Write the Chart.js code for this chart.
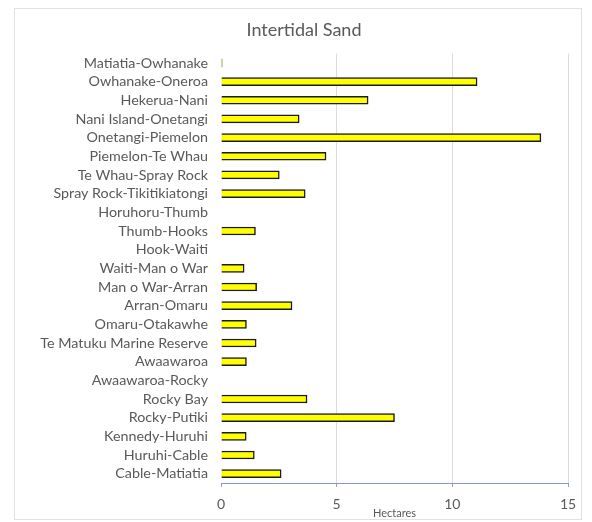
<!DOCTYPE html>
<html>
<head>
<meta charset="utf-8">
<script src="https://cdn.jsdelivr.net/npm/chart.js@4"></script>
<style>
  body { margin: 0; background: #fff; }
  #wrap { position: relative; width: 592px; height: 522px; }
  #frame { position: absolute; left: 14px; top: 8px; width: 566px; height: 510px; border: 1px solid #e2e2e2; pointer-events: none; }
</style>
</head>
<body>
<div id="wrap">
  <canvas id="sand" width="592" height="522"></canvas>
  <div id="frame"></div>
</div>
<script>

const sites = ['Matiatia-Owhanake', 'Owhanake-Oneroa', 'Hekerua-Nani', 'Nani Island-Onetangi',
  'Onetangi-Piemelon', 'Piemelon-Te Whau', 'Te Whau-Spray Rock', 'Spray Rock-Tikitikiatongi',
  'Horuhoru-Thumb', 'Thumb-Hooks', 'Hook-Waiti', 'Waiti-Man o War', 'Man o War-Arran',
  'Arran-Omaru', 'Omaru-Otakawhe', 'Te Matuku Marine Reserve', 'Awaawaroa', 'Awaawaroa-Rocky',
  'Rocky Bay', 'Rocky-Putiki', 'Kennedy-Huruhi', 'Huruhi-Cable', 'Cable-Matiatia'];

const hectares = [0.05, 11.07, 6.36, 3.38, 13.83, 4.54, 2.52, 3.64, 0, 1.49, 0, 1.0, 1.54,
  3.07, 1.1, 1.52, 1.1, 0, 3.72, 7.5, 1.09, 1.44, 2.6];

const xTicks = [0, 5, 10, 15];

const grey = '#595959';

new Chart(document.getElementById('sand'), {
  type: 'bar',
  data: {
    labels: sites,
    datasets: [{
      label: 'Intertidal Sand',
      data: hectares,
      backgroundColor: '#ffff00',
      borderColor: '#1a1a1a',
      borderWidth: 1.5,
      barThickness: 8
    }]
  },
  options: {
    indexAxis: 'y',
    responsive: false,
    animation: false,
    layout: { padding: { left: 40, right: 24, top: 0, bottom: 0 } },
    plugins: {
      legend: { display: false },
      tooltip: { enabled: false },
      title: {
        display: true,
        text: 'Intertidal Sand',
        color: grey,
        font: { family: 'Lato', size: 18, weight: 'normal' },
        padding: { top: 19, bottom: 13 }
      }
    },
    scales: {
      x: {
        min: 0,
        max: 15,
        afterBuildTicks: s => { s.ticks = xTicks.map(v => ({ value: v })); },
        afterFit: s => { s.height = 39; },
        border: { display: true, color: '#7f9ad2', width: 1 },
        grid: {
          color: c => c.tick && c.tick.value === 0 ? 'rgba(0,0,0,0)' : '#dcdcdc',
          tickColor: '#8fa3cc',
          tickLength: 4
        },
        ticks: {
          color: grey,
          padding: 9,
          font: { family: 'Lato', size: 14 }
        },
        title: {
          display: true,
          text: 'Hectares',
          color: grey,
          font: { family: 'Lato', size: 11 },
          padding: { top: 0, bottom: 2 }
        }
      },
      y: {
        afterFit: s => { s.width = 181; },
        border: { display: false },
        grid: { display: false },
        ticks: {
          color: grey,
          padding: 5,
          autoSkip: false,
          font: { family: 'Lato', size: 14.3 }
        }
      }
    }
  }
});
</script>
</body>
</html>
